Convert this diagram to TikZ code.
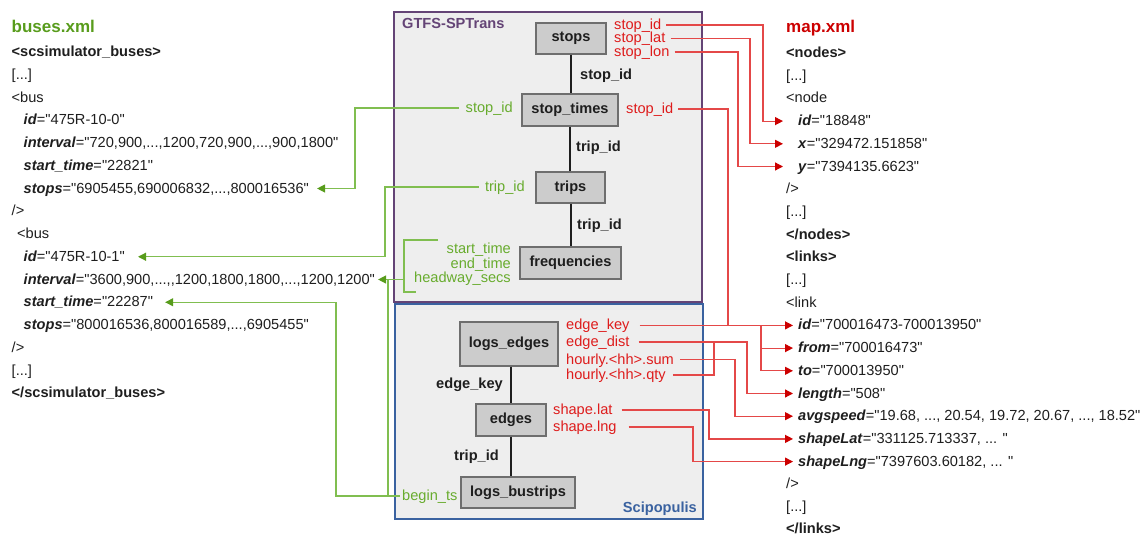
\documentclass[tikz,border=0pt]{standalone}
\usepackage{fontspec}
\setmainfont{Liberation Sans}[Ligatures=TeXOff]
\usetikzlibrary{arrows.meta,calc}
\definecolor{gtitle}{RGB}{88,156,28}
\definecolor{glab}{RGB}{104,172,46}
\definecolor{gln}{RGB}{128,190,80}
\definecolor{gtip}{RGB}{88,156,28}
\definecolor{rtitle}{RGB}{204,0,0}
\definecolor{rlab}{RGB}{222,28,28}
\definecolor{rln}{RGB}{228,72,72}
\definecolor{rtip}{RGB}{204,0,0}
\definecolor{purp}{RGB}{100,68,118}
\definecolor{blu}{RGB}{58,98,160}
\definecolor{cfill}{RGB}{238,238,238}
\definecolor{tfill}{RGB}{204,204,204}
\definecolor{tborder}{RGB}{110,110,110}
\definecolor{ink}{RGB}{30,30,30}
\newcommand{\xatt}[2]{\textbf{\textit{#1}}="#2"}
\begin{document}
\begin{tikzpicture}[x=1pt,y=-1pt,
  txt/.style={inner sep=0pt, anchor=west, text height=10pt, text depth=1pt,
    font=\fontsize{14.6}{16}\selectfont, text=ink},
  ttl/.style={inner sep=0pt, anchor=base west, font=\fontsize{17}{19}\selectfont\bfseries},
  container/.style={draw, line width=1.2pt, fill=cfill, inner sep=0pt},
  tbl/.style={draw=tborder, line width=1.3pt, fill=tfill, inner sep=0pt,
    font=\fontsize{14.6}{16}\selectfont\bfseries, text=ink},
  elab/.style={txt, font=\fontsize{14.6}{16}\selectfont\bfseries},
  glabel/.style={txt, text=glab},
  rlabel/.style={txt, text=rlab},
  rel/.style={draw=ink, line width=2pt},
  gl/.style={draw=gln, line width=1.2pt},
  rl/.style={draw=rln, line width=1.2pt},
  garr/.style={gl, -{Triangle[length=8pt,width=8pt,color=gtip]}},
  rarr/.style={rl, -{Triangle[length=8pt,width=8pt,color=rtip]}}
]
\useasboundingbox (0,0) rectangle (1143,535);

% ---------- containers ----------
\node[container, draw=purp, minimum width=308pt, minimum height=290pt] (gtfs) at (548,157) {};
\node[container, draw=blu, minimum width=308pt, minimum height=215pt] (scip) at (549,411.5) {};
\node[txt, text=purp, font=\fontsize{14.6}{16}\selectfont\bfseries] (gtfsT) at (402,24) {GTFS-SPTrans};
\node[txt, text=blu, anchor=east, font=\fontsize{14.6}{16}\selectfont\bfseries] (scipT) at (697,508) {Scipopulis};

% ---------- tables ----------
\node[tbl, minimum width=70pt, minimum height=31pt] (stops) at (571,38.5) {stops};
\node[tbl, minimum width=96pt, minimum height=32pt] (stoptimes) at (570,110) {stop\_times};
\node[tbl, minimum width=69pt, minimum height=31pt] (trips) at (570.5,187.5) {trips};
\node[tbl, minimum width=101pt, minimum height=32pt] (freq) at (570.5,263) {frequencies};
\node[tbl, minimum width=98pt, minimum height=44pt] (logsedges) at (509,344) {logs\_edges};
\node[tbl, minimum width=70pt, minimum height=32pt] (edges) at (511,420) {edges};
\node[tbl, minimum width=114pt, minimum height=31pt] (logsbus) at (518,492.5) {logs\_bustrips};

\draw[rel] (stops.south) -- (stops.south |- stoptimes.north);
\draw[rel] (stoptimes.south) -- (stoptimes.south |- trips.north);
\draw[rel] (trips.south) -- (trips.south |- freq.north);
\draw[rel] (edges.north |- logsedges.south) -- (edges.north);
\draw[rel] (edges.south) -- (edges.south |- logsbus.north);

\node[elab] (e1) at (580,75) {stop\_id};
\node[elab] (e2) at (576,147) {trip\_id};
\node[elab] (e3) at (577,225) {trip\_id};
\node[elab, anchor=east] (e4) at (503,384) {edge\_key};
\node[elab, anchor=east] (e5) at (499,456) {trip\_id};

% ---------- green labels ----------
\node[glabel, anchor=east] (gsid) at (513,108) {stop\_id};
\node[glabel, anchor=east] (gtid) at (525,187) {trip\_id};
\node[glabel, anchor=east] (gst) at (511,249) {start\_time};
\node[glabel, anchor=east] (get) at (511,264) {end\_time};
\node[glabel, anchor=east] (ghw) at (511,278) {headway\_secs};
\node[glabel] (gbts) at (402,496) {begin\_ts};

% ---------- red labels ----------
\node[rlabel] (rsid) at (614,25) {stop\_id};
\node[rlabel] (rslat) at (614,38.5) {stop\_lat};
\node[rlabel] (rslon) at (614,52) {stop\_lon};
\node[rlabel] (rstid) at (626,109) {stop\_id};
\node[rlabel] (rek) at (566,325.4) {edge\_key};
\node[rlabel] (rdist) at (566,342) {edge\_dist};
\node[rlabel] (rsum) at (566,359.5) {hourly.<hh>.sum};
\node[rlabel] (rqty) at (566,375) {hourly.<hh>.qty};
\node[rlabel] (rshlat) at (553,410) {shape.lat};
\node[rlabel] (rshlng) at (553,427) {shape.lng};

% ---------- buses.xml ----------
\node[ttl, text=gtitle] (busesT) at (11.5,32.5) {buses.xml};
\node[txt] (L0) at (11.5,52) {\textbf{<scsimulator\_buses>}};
\node[txt] (L1) at (11.5,74.75) {[...]};
\node[txt] (L2) at (11.5,97.5) {<bus};
\node[txt] (L3) at (23.5,120.25) {\xatt{id}{475R-10-0}};
\node[txt] (L4) at (23.5,143) {\xatt{interval}{720,900,...,1200,720,900,...,900,1800}};
\node[txt] (L5) at (23.5,165.75) {\xatt{start\_time}{22821}};
\node[txt] (L6) at (23.5,188.5) {\xatt{stops}{6905455,690006832,...,800016536}};
\node[txt] (L7) at (11.5,211.25) {/>};
\node[txt] (L8) at (17,234) {<bus};
\node[txt] (L9) at (23.5,256.75) {\xatt{id}{475R-10-1}};
\node[txt] (L10) at (23.5,279.5) {\xatt{interval}{3600,900,...,,1200,1800,1800,...,1200,1200}};
\node[txt] (L11) at (23.5,302.25) {\xatt{start\_time}{22287}};
\node[txt] (L12) at (23.5,325) {\xatt{stops}{800016536,800016589,...,6905455}};
\node[txt] (L13) at (11.5,347.75) {/>};
\node[txt] (L14) at (11.5,370.5) {[...]};
\node[txt] (L15) at (11.5,393.25) {\textbf{</scsimulator\_buses>}};

% ---------- map.xml ----------
\node[ttl, text=rtitle] (mapT) at (786,33) {map.xml};
\node[txt] (M0) at (786,53) {\textbf{<nodes>}};
\node[txt] (M1) at (786,75.7) {[...]};
\node[txt] (M2) at (786,98.4) {<node};
\node[txt] (M3) at (798,121.1) {\xatt{id}{18848}};
\node[txt] (M4) at (798,143.8) {\xatt{x}{329472.151858}};
\node[txt] (M5) at (798,166.5) {\xatt{y}{7394135.6623}};
\node[txt] (M6) at (786,189.2) {/>};
\node[txt] (M7) at (786,211.9) {[...]};
\node[txt] (M8) at (786,234.6) {\textbf{</nodes>}};
\node[txt] (M9) at (786,257.3) {\textbf{<links>}};
\node[txt] (M10) at (786,280) {[...]};
\node[txt] (M11) at (786,302.7) {<link};
\node[txt] (M12) at (798,325.4) {\xatt{id}{700016473-700013950}};
\node[txt] (M13) at (798,348.1) {\xatt{from}{700016473}};
\node[txt] (M14) at (798,370.8) {\xatt{to}{700013950}};
\node[txt] (M15) at (798,393.5) {\xatt{length}{508}};
\node[txt] (M16) at (798,416.2) {\xatt{avgspeed}{19.68, ..., 20.54, 19.72, 20.67, ..., 18.52}};
\node[txt] (M17) at (798,438.9) {\xatt{shapeLat}{331125.713337, ... }};
\node[txt] (M18) at (798,461.6) {\xatt{shapeLng}{7397603.60182, ... }};
\node[txt] (M19) at (786,484.3) {/>};
\node[txt] (M20) at (786,507) {[...]};
\node[txt] (M21) at (786,528.5) {\textbf{</links>}};

% ---------- routing columns ----------
\coordinate (c1) at (336,0);
\coordinate (c2) at (388,0);
\coordinate (c3) at (355,0);
\coordinate (c4) at (385,0);
\coordinate (brk) at (404,279.5);
\coordinate (v1) at (763,0);
\coordinate (v2) at (750,0);
\coordinate (v3) at (738,0);
\coordinate (v4) at (728,0);
\coordinate (v5) at (761,0);
\coordinate (v6) at (747,0);
\coordinate (v7) at (735,0);
\coordinate (v8) at (714,0);
\coordinate (v9) at (709,0);
\coordinate (v10) at (693,0);

% ---------- green connectors ----------
\draw[garr] ([xshift=-7pt]gsid.west) -| (c3 |- L6.east) -- ([xshift=8pt]L6.east);
\draw[garr] ([xshift=-6pt]gtid.west) -| (c4 |- L9.east) -- ([xshift=13pt]L9.east);
\draw[gl] (438,240) -| (404,292) -- (416,292);
\draw[garr] (brk) -- ([xshift=3pt]L10.east);
\draw[garr] ([xshift=-2pt]gbts.west) -| (c1 |- L11.east) -- ([xshift=12pt]L11.east);
\draw[gl] (c2 |- gbts.west) -- (c2 |- brk);

% ---------- red connectors ----------
\draw[rarr] ([xshift=5pt]rsid.east) -| (v1 |- M3.west) -- ([xshift=-15pt]M3.west);
\draw[rarr] ([xshift=5pt]rslat.east) -| (v2 |- M4.west) -- ([xshift=-15pt]M4.west);
\draw[rarr] ([xshift=5pt]rslon.east) -| (v3 |- M5.west) -- ([xshift=-15pt]M5.west);
\draw[rl] ([xshift=5pt]rstid.east) -| (v4 |- M12.west);
\draw[rarr] ([xshift=10pt]rek.east) -- ([xshift=-5pt]M12.west);
\draw[rarr] (v5 |- M12.west) |- ([xshift=-5pt]M13.west);
\draw[rarr] (v5 |- M12.west) |- ([xshift=-5pt]M14.west);
\draw[rarr] ([xshift=9pt]rdist.east) -| (v6 |- M15.west) -- ([xshift=-5pt]M15.west);
\draw[rarr] ([xshift=6pt]rsum.east) -| (v7 |- M16.west) -- ([xshift=-5pt]M16.west);
\draw[rl] ([xshift=7pt]rqty.east) -| (v8 |- rdist.east);
\draw[rarr] ([xshift=9pt]rshlat.east) -| (v9 |- M17.west) -- ([xshift=-5pt]M17.west);
\draw[rarr] ([xshift=12pt]rshlng.east) -| (v10 |- M18.west) -- ([xshift=-5pt]M18.west);
\end{tikzpicture}
\end{document}
